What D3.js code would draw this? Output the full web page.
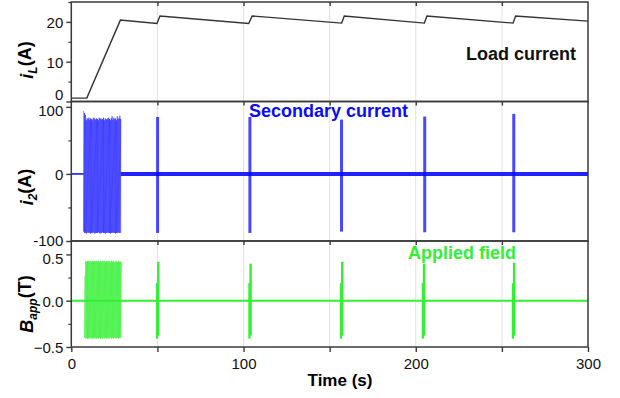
<!DOCTYPE html>
<html>
<head>
<meta charset="utf-8">
<script src="https://cdn.jsdelivr.net/npm/d3@7"></script>
<style>
  body { margin: 0; background: #fff; }
  svg { font-family: "Liberation Sans", Arial, sans-serif; }
</style>
</head>
<body>
<div id="chart"></div>
<script>
// ---- data ----
const timeTicks = [0, 100, 200, 300];
const gridTimes = [50, 100, 150, 200, 250];

// load current i_L (A)
const loadTime = [0, 9, 28.5, 49.7, 51.5, 103, 105, 157, 158.5, 205, 206.5, 256.5, 258, 300];
const loadCurrent = [0.85, 0.85, 20.45, 19.6, 21.5, 19.6, 21.5, 19.7, 21.5, 19.7, 21.5, 19.7, 21.5, 20.2];

// secondary current i_2 (A): first burst peaks
const i2BurstT = [7.2, 7.7, 8.2, 8.7, 9.2, 9.7, 10.2, 10.7, 11.2, 11.7, 12.2, 12.7, 13.2, 13.7, 14.2,
  14.7, 15.2, 15.7, 16.2, 16.7, 17.2, 17.7, 18.2, 18.7, 19.2, 19.7, 20.2, 20.7, 21.2, 21.7, 22.2,
  22.7, 23.2, 23.7, 24.2, 24.7, 25.2, 25.7, 26.2, 26.7, 27.2, 27.7, 28.2, 28.7];
const i2BurstHi = [94, 91, 88, 80, 83, 82, 84, 81, 83, 82, 80, 83, 84, 82, 81, 83, 82, 80, 84, 82, 83, 81,
  82, 84, 80, 83, 82, 81, 83, 84, 82, 80, 83, 86, 81, 84, 82, 83, 80, 86, 82, 83, 87, 82];
const i2BurstLo = [-86, -88, -88, -89, -88, -87, -88, -88, -89, -88, -88, -87, -88, -89, -88, -88, -88,
  -87, -88, -89, -88, -88, -87, -88, -88, -89, -88, -88, -87, -88, -88, -89, -88, -88, -87, -88, -88,
  -89, -88, -88, -87, -88, -88, -88];
// later pulses
const i2SpikeT = [50.1, 103.7, 156.9, 205.2, 256.9];
const i2SpikeHi = [85, 85, 81, 85.5, 89.5];
const i2SpikeLo = [-88, -88, -86, -87, -87];
const i2QuietT = [0, 7.2];
const i2NoisyT = [28.7, 300];

// applied field B_app (T)
const fieldBurstT = [7.8, 8.4, 8.9, 9.4, 9.9, 10.4, 10.9, 11.4, 11.9, 12.4, 12.9, 13.4, 13.9, 14.4, 14.9,
  15.4, 15.9, 16.4, 16.9, 17.4, 17.9, 18.4, 18.9, 19.4, 19.9, 20.4, 20.9, 21.4, 21.9, 22.4, 22.9, 23.4,
  23.9, 24.4, 24.9, 25.4, 25.9, 26.4, 26.9, 27.4, 27.9, 28.4, 28.9];
const fieldBurstHi = [0.27, 0.43, 0.42, 0.43, 0.43, 0.42, 0.43, 0.42, 0.43, 0.43, 0.42, 0.43, 0.42, 0.43,
  0.43, 0.42, 0.43, 0.42, 0.43, 0.42, 0.43, 0.43, 0.42, 0.43, 0.42, 0.43, 0.42, 0.43, 0.43, 0.42, 0.42,
  0.43, 0.42, 0.43, 0.42, 0.42, 0.43, 0.42, 0.42, 0.43, 0.42, 0.42, 0.42];
const fieldBurstLo = [-0.40, -0.41, -0.40, -0.41, -0.41, -0.40, -0.41, -0.40, -0.41, -0.41, -0.40, -0.41,
  -0.40, -0.41, -0.41, -0.40, -0.41, -0.40, -0.41, -0.40, -0.41, -0.41, -0.40, -0.41, -0.40, -0.41,
  -0.40, -0.41, -0.41, -0.40, -0.40, -0.41, -0.40, -0.41, -0.40, -0.40, -0.41, -0.40, -0.40, -0.41,
  -0.40, -0.40, -0.40];
const fieldSpikeT = [50.5, 104.1, 157.3, 204.8, 257.1];
const fieldSpikeHi = [0.42, 0.40, 0.42, 0.40, 0.41];
const fieldSpikeStep = [0.19, 0.19, 0.19, 0.19, 0.19];
const fieldSpikeLo = [-0.41, -0.41, -0.41, -0.41, -0.41];
const fieldBaseT = [0, 300];

// ---- layout ----
const width = 620, height = 398;
const left = 71.3, right = 588;
const blue = "#0a0aff", green = "#33f033", frame = "#3a3a3a";

const svg = d3.select("#chart").append("svg")
  .attr("width", width).attr("height", height);

const x = d3.scaleLinear().domain([0, 300]).range([left, right]);
const yLoad = d3.scaleLinear().domain([0, 25]).range([101.5, 2]);
const yI2 = d3.scaleLinear().domain([-100, 108]).range([241, 101.5]);
const yB = d3.scaleLinear().domain([-0.5, 0.645]).range([347, 241]);

const panels = [
  { y: yLoad, major: [0, 10, 20], minor: [5, 15, 25], fmt: d => d },
  { y: yI2, major: [-100, 0, 100], minor: [-50, 50], fmt: d => d },
  { y: yB, major: [-0.5, 0, 0.5], minor: [-0.25, 0.25], fmt: d3.format(".1f") }
];

// vertical grid lines
svg.append("g").selectAll("line")
  .data(gridTimes).enter().append("line")
  .attr("x1", d => x(d)).attr("x2", d => x(d))
  .attr("y1", yLoad.range()[1]).attr("y2", yB.range()[0])
  .attr("stroke", "#e2e2e2").attr("stroke-width", 1);

// ---- load current ----
svg.append("path")
  .datum(d3.zip(loadTime, loadCurrent))
  .attr("fill", "none")
  .attr("stroke", "#333")
  .attr("stroke-width", 1.4)
  .attr("d", d3.line().x(d => x(d[0])).y(d => yLoad(d[1])));

// ---- secondary current ----
const zig = (ts, hi, lo) => ts.flatMap((t, i) => [[t, hi[i]], [t, lo[i]]]);

svg.append("path")
  .datum(i2QuietT.map(t => [t, 0]))
  .attr("stroke", blue).attr("stroke-width", 1.5).attr("fill", "none")
  .attr("d", d3.line().x(d => x(d[0])).y(d => yI2(d[1])));

svg.append("path")
  .datum(zig(i2BurstT, i2BurstHi, i2BurstLo))
  .attr("stroke", blue).attr("stroke-opacity", 0.6).attr("stroke-width", 0.8).attr("fill", "none")
  .attr("d", d3.line().x(d => x(d[0])).y(d => yI2(d[1])));

svg.append("path")
  .datum(i2NoisyT.map(t => [t, 0]))
  .attr("stroke", blue).attr("stroke-opacity", 0.9).attr("stroke-width", 4).attr("fill", "none")
  .attr("d", d3.line().x(d => x(d[0])).y(d => yI2(d[1])));

svg.append("g").selectAll("line")
  .data(i2SpikeT).enter().append("line")
  .attr("x1", d => x(d)).attr("x2", d => x(d))
  .attr("y1", (d, i) => yI2(i2SpikeHi[i]))
  .attr("y2", (d, i) => yI2(i2SpikeLo[i]))
  .attr("stroke", blue).attr("stroke-opacity", 0.75).attr("stroke-width", 3);

// ---- applied field ----
svg.append("path")
  .datum(fieldBaseT.map(t => [t, 0]))
  .attr("stroke", green).attr("stroke-width", 2).attr("fill", "none")
  .attr("d", d3.line().x(d => x(d[0])).y(d => yB(d[1])));

svg.append("path")
  .datum(zig(fieldBurstT, fieldBurstHi, fieldBurstLo))
  .attr("stroke", green).attr("stroke-opacity", 0.65).attr("stroke-width", 0.9).attr("fill", "none")
  .attr("d", d3.line().x(d => x(d[0])).y(d => yB(d[1])));

const fieldSpikes = svg.append("g").selectAll("g")
  .data(fieldSpikeT).enter().append("g");
fieldSpikes.append("line")
  .attr("x1", d => x(d) - 1.2).attr("x2", d => x(d) - 1.2)
  .attr("y1", (d, i) => yB(fieldSpikeStep[i]))
  .attr("y2", (d, i) => yB(fieldSpikeLo[i]))
  .attr("stroke", green).attr("stroke-width", 2.2);
fieldSpikes.append("line")
  .attr("x1", d => x(d)).attr("x2", d => x(d))
  .attr("y1", (d, i) => yB(fieldSpikeHi[i]))
  .attr("y2", (d, i) => yB(fieldSpikeLo[i]) - 3)
  .attr("stroke", green).attr("stroke-width", 2.4);

// ---- frames and axes ----
panels.forEach((p, k) => {
  const [yb, yt] = p.y.range();
  svg.append("rect")
    .attr("x", left).attr("y", yt)
    .attr("width", right - left).attr("height", yb - yt)
    .attr("fill", "none").attr("stroke", frame).attr("stroke-width", 1.5);

  const major = svg.append("g")
    .attr("transform", "translate(" + left + ",0)")
    .call(d3.axisLeft(p.y).tickValues(p.major).tickSize(5).tickPadding(3).tickFormat(p.fmt));
  major.select(".domain").remove();
  major.selectAll("line").attr("stroke", frame).attr("stroke-width", 1.4);
  major.selectAll("text")
    .attr("fill", "#111")
    .style("font-size", "15px")
    .attr("dy", d => {
      // the original nudges the labels that meet at a panel border
      if (k === 0 && d === 0) return "-0.12em";
      if (k === 1 && d === 100) return "0.6em";
      if (k === 1 && d === -100) return "0.3em";
      if (k === 2 && d === 0.5) return "0.62em";
      return "0.38em";
    });

  const minor = svg.append("g")
    .attr("transform", "translate(" + left + ",0)")
    .call(d3.axisLeft(p.y).tickValues(p.minor).tickSize(3).tickFormat(""));
  minor.select(".domain").remove();
  minor.selectAll("line").attr("stroke", frame).attr("stroke-width", 1.2);

  // inward ticks along the top edge of each panel
  const topTicks = svg.append("g")
    .attr("transform", "translate(0," + yt + ")")
    .call(d3.axisBottom(x).tickValues(gridTimes).tickSize(4).tickFormat(""));
  topTicks.select(".domain").remove();
  topTicks.selectAll("line").attr("stroke", frame).attr("stroke-width", 1.4);
});

const xAxis = svg.append("g")
  .attr("transform", "translate(0," + yB.range()[0] + ")")
  .call(d3.axisBottom(x).tickValues([0, 50, 100, 150, 200, 250, 300]).tickSize(5).tickPadding(6)
    .tickFormat(d => timeTicks.includes(d) ? d : ""));
xAxis.select(".domain").remove();
xAxis.selectAll("line").attr("stroke", frame).attr("stroke-width", 1.4);
xAxis.selectAll("text").attr("fill", "#111").style("font-size", "15px");

svg.append("text")
  .attr("x", 340).attr("y", 386)
  .attr("text-anchor", "middle")
  .style("font-size", "17px").style("font-weight", "bold")
  .text("Time (s)");

// ---- y axis titles ----
function yTitle(cy, sym, sub, unit) {
  const t = svg.append("text")
    .attr("transform", "translate(33," + cy + ") rotate(-90)")
    .attr("text-anchor", "middle")
    .style("font-size", "18px").style("font-weight", "bold");
  t.append("tspan").style("font-style", "italic").text(sym);
  t.append("tspan").attr("dy", "0.3em").style("font-size", "12px")
    .style("font-style", "italic").text(sub);
  t.append("tspan").attr("dy", "-0.3em").text(unit);
}
yTitle(60, "i", "L", "(A)");
yTitle(187, "i", "2", "(A)");
yTitle(304, "B", "app", "(T)");

// ---- panel captions ----
svg.append("text").attr("x", 576).attr("y", 60).attr("text-anchor", "end")
  .style("font-size", "18px").style("font-weight", "bold").attr("fill", "#111")
  .text("Load current");
svg.append("text").attr("x", 249).attr("y", 116.5)
  .style("font-size", "18px").style("font-weight", "bold").attr("fill", blue)
  .text("Secondary current");
svg.append("text").attr("x", 408).attr("y", 258.5)
  .style("font-size", "18px").style("font-weight", "bold").attr("fill", green)
  .text("Applied field");
</script>
</body>
</html>
